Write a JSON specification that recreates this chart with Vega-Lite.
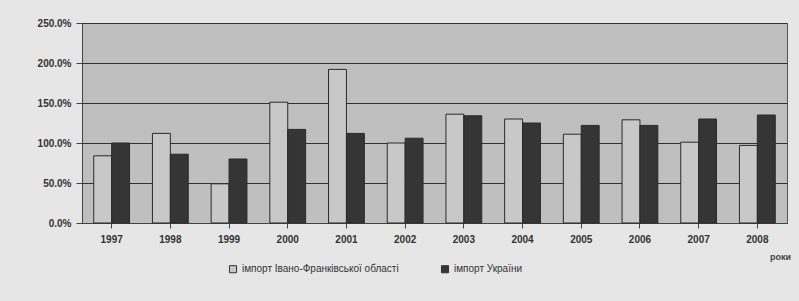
{
  "$schema": "https://vega.github.io/schema/vega-lite/v6.json",
  "width": 705,
  "height": 200,
  "autosize": {"type": "none"},
  "padding": {"left": 82, "top": 23, "right": 12, "bottom": 78},
  "background": "#e6e6e6",
  "config": {
    "view": {"fill": "#bfbfbf", "stroke": "#555555", "strokeWidth": 1},
    "font": "Liberation Sans"
  },
  "data": {
    "values": [
      {"year": "1997", "series": "імпорт Івано-Франківської області", "value": 0.84},
      {"year": "1997", "series": "імпорт України", "value": 1.00},
      {"year": "1998", "series": "імпорт Івано-Франківської області", "value": 1.12},
      {"year": "1998", "series": "імпорт України", "value": 0.86},
      {"year": "1999", "series": "імпорт Івано-Франківської області", "value": 0.49},
      {"year": "1999", "series": "імпорт України", "value": 0.80},
      {"year": "2000", "series": "імпорт Івано-Франківської області", "value": 1.51},
      {"year": "2000", "series": "імпорт України", "value": 1.17},
      {"year": "2001", "series": "імпорт Івано-Франківської області", "value": 1.92},
      {"year": "2001", "series": "імпорт України", "value": 1.12},
      {"year": "2002", "series": "імпорт Івано-Франківської області", "value": 1.00},
      {"year": "2002", "series": "імпорт України", "value": 1.06},
      {"year": "2003", "series": "імпорт Івано-Франківської області", "value": 1.36},
      {"year": "2003", "series": "імпорт України", "value": 1.34},
      {"year": "2004", "series": "імпорт Івано-Франківської області", "value": 1.30},
      {"year": "2004", "series": "імпорт України", "value": 1.25},
      {"year": "2005", "series": "імпорт Івано-Франківської області", "value": 1.11},
      {"year": "2005", "series": "імпорт України", "value": 1.22},
      {"year": "2006", "series": "імпорт Івано-Франківської області", "value": 1.29},
      {"year": "2006", "series": "імпорт України", "value": 1.22},
      {"year": "2007", "series": "імпорт Івано-Франківської області", "value": 1.01},
      {"year": "2007", "series": "імпорт України", "value": 1.30},
      {"year": "2008", "series": "імпорт Івано-Франківської області", "value": 0.97},
      {"year": "2008", "series": "імпорт України", "value": 1.35}
    ]
  },
  "mark": {"type": "bar", "stroke": "#2a2a2a", "strokeWidth": 1},
  "encoding": {
    "x": {
      "field": "year", "type": "nominal",
      "scale": {"paddingInner": 0.39, "paddingOuter": 0.2},
      "axis": {
        "labelAngle": 0, "labelFontSize": 10, "labelFontWeight": "bold", "labelColor": "#333333",
        "ticks": true, "tickColor": "#444444", "domainColor": "#444444", "labelPadding": 6,
        "title": "роки", "titleFontSize": 9, "titleFontWeight": "bold", "titleColor": "#444444",
        "titleX": 698, "titleY": 29, "titleAlign": "center"
      }
    },
    "xOffset": {"field": "series", "sort": ["імпорт Івано-Франківської області", "імпорт України"]},
    "y": {
      "field": "value", "type": "quantitative",
      "scale": {"domain": [0, 2.5]},
      "axis": {
        "format": ".1%", "values": [0, 0.5, 1, 1.5, 2, 2.5], "title": null,
        "labelFontSize": 10, "labelFontWeight": "bold", "labelColor": "#333333",
        "grid": true, "gridColor": "#333333", "gridWidth": 1,
        "domainColor": "#444444", "tickColor": "#444444", "tickSize": 6, "labelPadding": 5
      }
    },
    "color": {
      "field": "series", "type": "nominal",
      "sort": ["імпорт Івано-Франківської області", "імпорт України"],
      "scale": {"range": ["#c8c8c8", "#353535"]},
      "legend": {
        "orient": "none", "direction": "horizontal", "legendX": 146, "legendY": 241,
        "title": null, "symbolType": "square", "symbolSize": 50, "symbolStrokeColor": "#333333",
        "symbolStrokeWidth": 1, "labelFontSize": 10, "labelLimit": 400, "labelColor": "#333333", "columnPadding": 40
      }
    }
  }
}
